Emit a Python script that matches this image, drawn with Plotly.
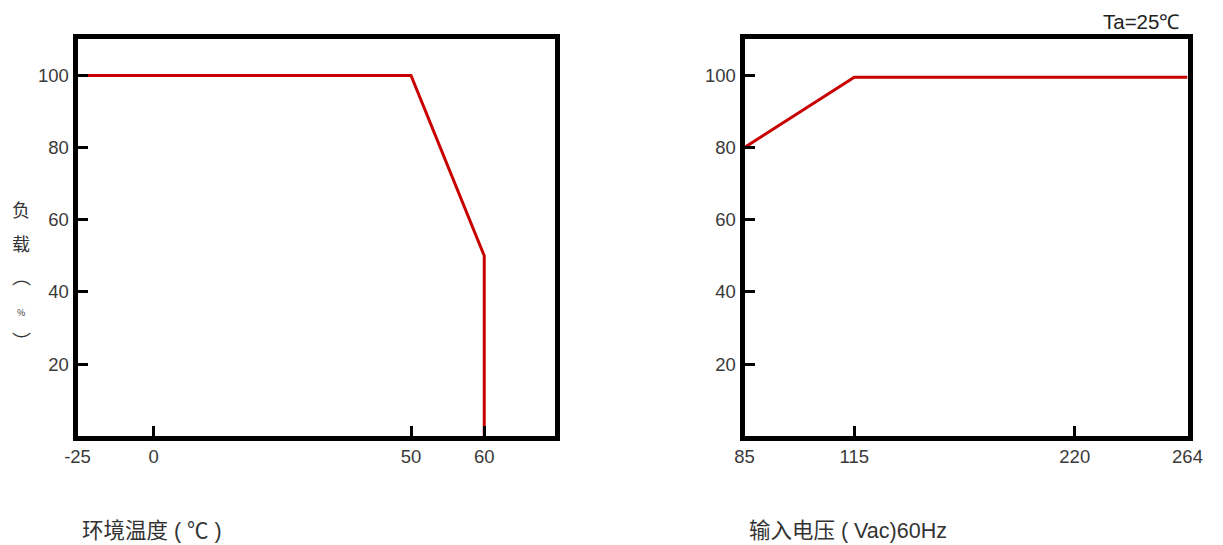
import numpy as np
import plotly.graph_objects as go

# ---------------- data ----------------
temp_c = [-25, 50, 60, 60]          # ambient temperature (°C)
temp_load = [100, 100, 50, 0]       # load (%)

volt_vac = [85, 115, 264]           # input voltage (Vac)
volt_load = [80, 99.5, 99.5]        # load (%)

temp_ticks = [-25, 0, 50, 60]
volt_ticks = [85, 115, 220, 264]
load_ticks = [20, 40, 60, 80, 100]

# ---------------- non-uniform axis scales (as drawn in the original) ----------------
temp_scale_data = [-25, 0, 50, 60, 69.6]
temp_scale_pos = [0, 77, 337, 411, 482]
volt_scale_data = [85, 115, 220, 264]
volt_scale_pos = [0, 111, 334, 448]


def temp_to_axis(v):
    return np.interp(v, temp_scale_data, temp_scale_pos)


def volt_to_axis(v):
    return np.interp(v, volt_scale_data, volt_scale_pos)


PAGE_OFF = 8                       # body margin of the page
W, H = 1223 - PAGE_OFF, 545 - PAGE_OFF
RED = "#C80000"
TICK_FONT = dict(family="Liberation Sans, Arial, sans-serif", size=18.5, color="#3a3a3a")
TITLE_FONT = dict(family="Liberation Sans, Noto Sans CJK SC, sans-serif", size=21.5,
                  color="#333333")

fig = go.Figure()
fig.add_trace(go.Scatter(x=temp_to_axis(temp_c), y=temp_load, mode="lines",
                         line=dict(color=RED, width=3), xaxis="x", yaxis="y",
                         showlegend=False, hoverinfo="skip"))
fig.add_trace(go.Scatter(x=volt_to_axis(volt_vac), y=volt_load, mode="lines",
                         line=dict(color=RED, width=3), xaxis="x2", yaxis="y2",
                         showlegend=False, hoverinfo="skip"))

LW = 5


def px_x(p):
    return (p - PAGE_OFF) / W


def px_y(p):
    return 1 - (p - PAGE_OFF) / H


ydom = [px_y(438.7 - LW / 2), px_y(36.8 + LW / 2)]

axis_common = dict(showline=True, linewidth=LW, linecolor="black", mirror=True,
                   showgrid=False, zeroline=False, ticks="inside", ticklen=10,
                   tickwidth=3, tickcolor="black", tickfont=TICK_FONT, fixedrange=True,
                   automargin=False)

fig.update_layout(
    width=W, height=H,
    margin=dict(l=0, r=0, t=0, b=0, pad=0, autoexpand=False),
    paper_bgcolor="white", plot_bgcolor="white",
    xaxis=dict(domain=[px_x(75 + LW / 2), px_x(557 - LW / 2)],
               range=[temp_scale_pos[0], temp_scale_pos[-1]],
               tickmode="array", tickvals=temp_to_axis(temp_ticks),
               ticktext=[str(t) for t in temp_ticks], anchor="y", **axis_common),
    yaxis=dict(domain=ydom, range=[0, 110], tickmode="array", tickvals=load_ticks,
               anchor="x", **axis_common),
    xaxis2=dict(domain=[px_x(742 + LW / 2), px_x(1190 - LW / 2)],
                range=[volt_scale_pos[0], volt_scale_pos[-1]],
                tickmode="array", tickvals=volt_to_axis(volt_ticks),
                ticktext=[str(t) for t in volt_ticks], anchor="y2", **axis_common),
    yaxis2=dict(domain=ydom, range=[0, 110], tickmode="array", tickvals=load_ticks,
                anchor="x2", **axis_common),
)

annotations = [
    dict(text="环境温度 ( ℃ )", x=px_x(80), y=px_y(531), xanchor="left", yanchor="middle",
         font=TITLE_FONT),
    dict(text="输入电压 ( Vac)60Hz", x=px_x(747), y=px_y(531), xanchor="left",
         yanchor="middle", font=TITLE_FONT),
    dict(text="Ta=25℃", x=px_x(1181), y=px_y(21), xanchor="right", yanchor="middle",
         font=dict(family="Liberation Sans, Arial, sans-serif", size=20.5, color="#222222")),
]

ylabel_chars = ["负", "载", "︵", "%", "︶"]
ylabel_ys = [209, 243, 275, 312, 340]
ylabel_sizes = [18, 18, 19, 9, 19]
for ch, yy, fs in zip(ylabel_chars, ylabel_ys, ylabel_sizes):
    annotations.append(dict(text=ch, x=px_x(21), y=px_y(yy), xanchor="center",
                            yanchor="middle",
                            font=dict(family="Noto Sans CJK SC, sans-serif", size=fs,
                                      color="#333333")))

for a in annotations:
    a.update(xref="paper", yref="paper", showarrow=False)
fig.update_layout(annotations=annotations)

fig.write_html("out.html")
